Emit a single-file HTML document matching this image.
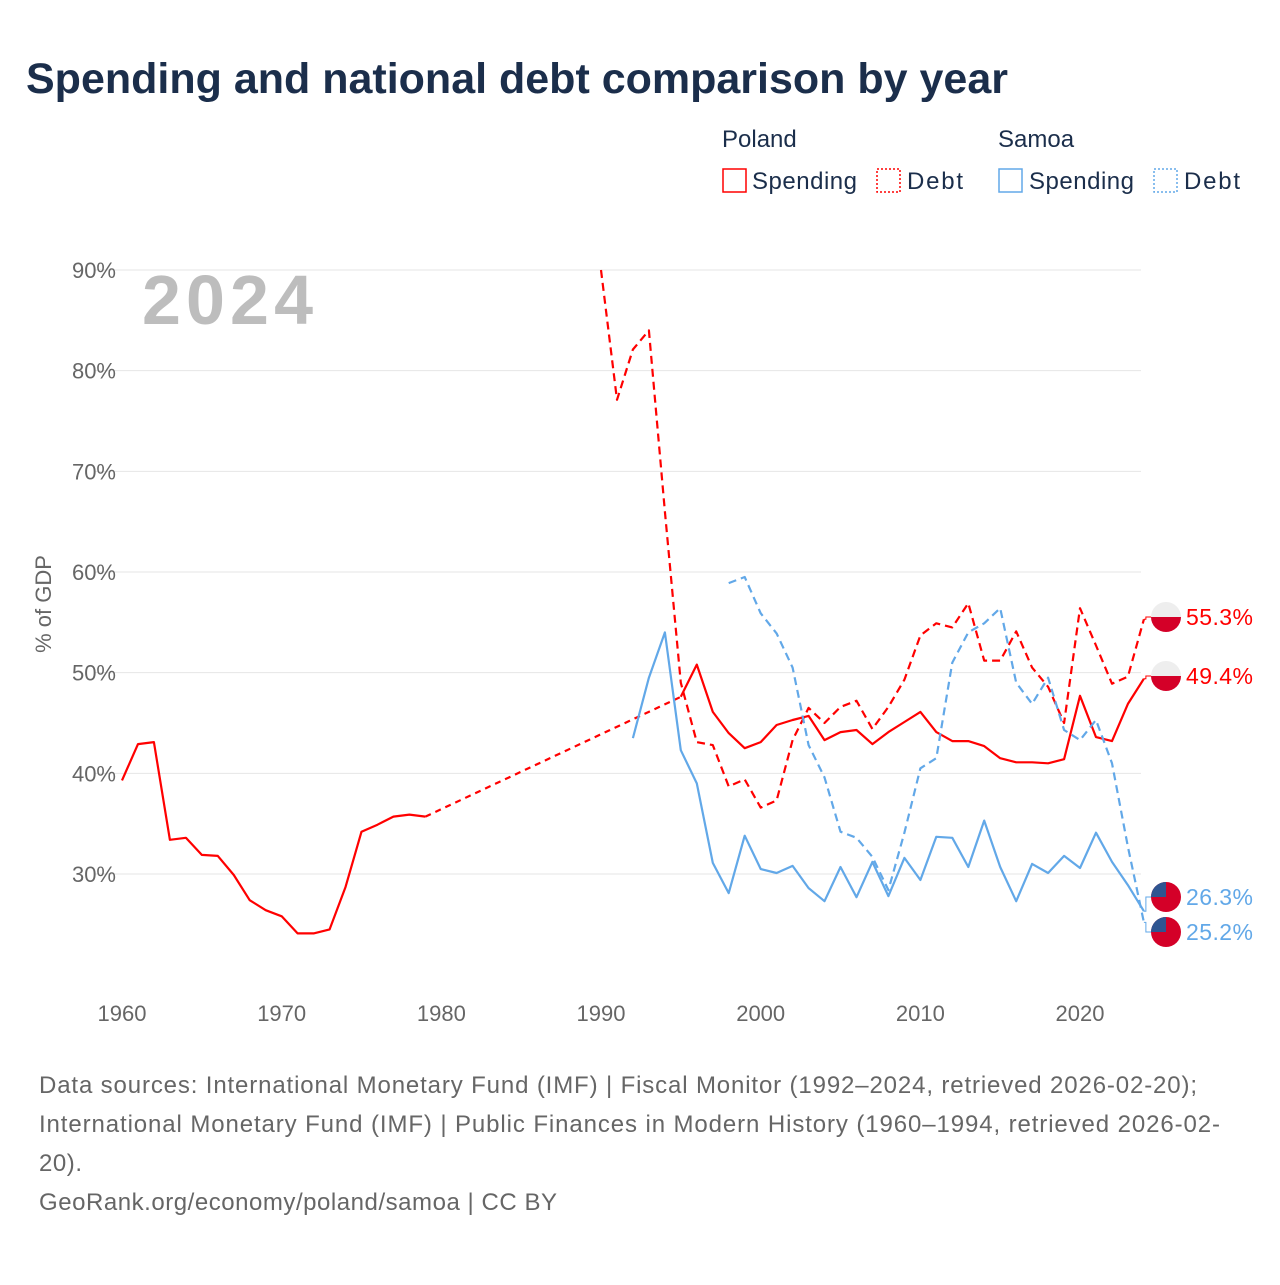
<!DOCTYPE html>
<html><head><meta charset="utf-8"><style>
body{margin:0;width:1280px;height:1280px;background:#fff;font-family:"Liberation Sans",sans-serif;overflow:hidden}
</style></head><body>
<svg id="c" width="1280" height="1280" xmlns="http://www.w3.org/2000/svg">
<text x="26" y="93" font-size="43" font-weight="bold" fill="#1b2e4b">Spending and national debt comparison by year</text>
<g font-size="24" fill="#1b2e4b">
<text x="722" y="147">Poland</text>
<text x="998" y="147">Samoa</text>
<rect x="723" y="169" width="23" height="23" fill="none" stroke="#f00" stroke-width="1.5"/>
<text x="752" y="189" textLength="105">Spending</text>
<rect x="877" y="169" width="23" height="23" fill="none" stroke="#f00" stroke-width="1.5" stroke-dasharray="2,2"/>
<text x="907" y="189" textLength="56">Debt</text>
<rect x="999" y="169" width="23" height="23" fill="none" stroke="#62a8e8" stroke-width="1.5"/>
<text x="1029" y="189" textLength="105">Spending</text>
<rect x="1154" y="169" width="23" height="23" fill="none" stroke="#62a8e8" stroke-width="1.5" stroke-dasharray="2,2"/>
<text x="1184" y="189" textLength="56">Debt</text>
</g>
<text x="142" y="324" font-size="70" font-weight="bold" fill="#bdbdbd" textLength="171">2024</text>
<text transform="translate(51,604) rotate(-90)" text-anchor="middle" font-size="22" fill="#666">% of GDP</text>
<g id="grid"></g><g id="series"></g><g id="ends"></g>
<g font-size="24" fill="#666">
<text x="39" y="1093" textLength="1158">Data sources: International Monetary Fund (IMF) | Fiscal Monitor (1992–2024, retrieved 2026-02-20);</text>
<text x="39" y="1132" textLength="1181">International Monetary Fund (IMF) | Public Finances in Modern History (1960–1994, retrieved 2026-02-</text>
<text x="39" y="1171" textLength="43">20).</text>
<text x="39" y="1210" textLength="518">GeoRank.org/economy/poland/samoa | CC BY</text>
</g>
</svg>
<script>
const yTicks=[30,40,50,60,70,80,90];
const xTicks=[1960,1970,1980,1990,2000,2010,2020];
const plSpendYears=[1960,1961,1962,1963,1964,1965,1966,1967,1968,1969,1970,1971,1972,1973,1974,1975,1976,1977,1978,1979];
const plSpendEarly=[39.3,42.9,43.1,33.4,33.6,31.9,31.8,29.9,27.4,26.4,25.8,24.1,24.1,24.5,28.7,34.2,34.9,35.7,35.9,35.7];
const plSpendLateStart=1995;
const plSpendLate=[47.6,50.8,46.1,44.0,42.5,43.1,44.8,45.3,45.7,43.3,44.1,44.3,42.9,44.1,45.1,46.1,44.1,43.2,43.2,42.7,41.5,41.1,41.1,41.0,41.4,47.7,43.6,43.2,46.9,49.4];
const plDebtStart=1990;
const plDebt=[90.0,77.1,82.1,84.0,66.0,49.0,43.1,42.8,38.7,39.4,36.6,37.3,43.3,46.5,45.0,46.6,47.2,44.4,46.6,49.3,53.7,54.9,54.5,56.9,51.2,51.2,54.1,50.5,48.6,45.0,56.4,52.7,48.9,49.6,55.3];
const wsSpendStart=1992;
const wsSpend=[43.5,49.5,54.0,42.3,39.0,31.1,28.1,33.8,30.5,30.1,30.8,28.6,27.3,30.7,27.7,31.2,27.8,31.6,29.4,33.7,33.6,30.7,35.3,30.7,27.3,31.0,30.1,31.8,30.6,34.1,31.2,28.9,26.3];
const wsDebtStart=1998;
const wsDebt=[58.9,59.5,55.9,53.9,50.5,42.8,39.6,34.2,33.6,31.7,28.4,34.1,40.5,41.5,51.0,54.0,54.9,56.4,49.0,46.9,49.5,44.3,43.3,45.3,41.0,32.7,25.2];

const NS="http://www.w3.org/2000/svg";
const X=yr=>122+(yr-1960)*15.967;
const Y=v=>874-(v-30)*10.067;
function el(tag,attrs,parent){const e=document.createElementNS(NS,tag);for(const k in attrs)e.setAttribute(k,attrs[k]);parent.appendChild(e);return e;}
const grid=document.getElementById('grid'),ser=document.getElementById('series'),ends=document.getElementById('ends');
yTicks.forEach(v=>{
 const l=el('line',{x1:95,x2:1141,y1:Y(v),y2:Y(v),stroke:'#e6e6e6','stroke-width':1},grid);
 
 
 const t=el('text',{x:116,y:Y(v)+8,'text-anchor':'end','font-size':22,fill:'#666'},grid);t.textContent=v+'%';
 
 
});
xTicks.forEach(yr=>{
 const t=el('text',{x:X(yr),y:1021,'text-anchor':'middle','font-size':22,fill:'#666'},grid);t.textContent=yr;
 
 
});
function pts(start,arr){return arr.map((v,i)=>X(start+i).toFixed(1)+','+Y(v).toFixed(1)).join(' ');}
function line(p,color,dash,name){const e=el('polyline',{points:p,fill:'none',stroke:color,'stroke-width':2.2,'stroke-linejoin':'round'},ser);if(dash)e.setAttribute('stroke-dasharray',dash);
 
 return e;}
const RED='#f00',BLUE='#62a8e8';
line(pts(plSpendYears[0],plSpendEarly),RED,null,'poland-spending-line-early');
line(X(plSpendYears[plSpendYears.length-1])+','+Y(plSpendEarly[plSpendEarly.length-1])+' '+X(plSpendLateStart)+','+Y(plSpendLate[0]),RED,'6,5','poland-spending-gap');
line(pts(plSpendLateStart,plSpendLate),RED,null,'poland-spending-line');
line(pts(plDebtStart,plDebt),RED,'8,5','poland-debt-line');
line(pts(wsSpendStart,wsSpend),BLUE,null,'samoa-spending-line');
line(pts(wsDebtStart,wsDebt),BLUE,'8,5','samoa-debt-line');
const endItems=[
 {v:plDebt[plDebt.length-1],ly:617,c:RED,f:'pl',n:'poland-debt'},
 {v:plSpendLate[plSpendLate.length-1],ly:676,c:RED,f:'pl',n:'poland-spending'},
 {v:wsSpend[wsSpend.length-1],ly:897,c:BLUE,f:'ws',n:'samoa-spending'},
 {v:wsDebt[wsDebt.length-1],ly:932,c:BLUE,f:'ws',n:'samoa-debt'}];
endItems.forEach(it=>{
 const x0=X(2024),yv=Y(it.v);
 const c=el('polyline',{points:`${x0},${yv} ${x0+2},${yv} ${x0+2},${it.ly} ${x0+10},${it.ly}`,fill:'none',stroke:it.c,'stroke-width':1},ends);
 
 
 const g=el('g',{},ends);
 
 
 const cx=1166,r=15;
 const clip=el('clipPath',{id:'cp'+it.n},g);
 el('circle',{cx:cx,cy:it.ly,r:r},clip);
 const gg=el('g',{'clip-path':`url(#cp${it.n})`},g);
 if(it.f==='pl'){el('rect',{x:cx-r,y:it.ly-r,width:2*r,height:r,fill:'#eee'},gg);el('rect',{x:cx-r,y:it.ly,width:2*r,height:r,fill:'#d40028'},gg);}
 else{el('rect',{x:cx-r,y:it.ly-r,width:2*r,height:2*r,fill:'#d40028'},gg);el('rect',{x:cx-r,y:it.ly-r,width:r,height:r,fill:'#2e5591'},gg);}
 const t=el('text',{x:1186,y:it.ly+8,'font-size':23,fill:it.c,textLength:67},ends);t.textContent=it.v.toFixed(1)+'%';
 
 
});
</script>
</body></html>
